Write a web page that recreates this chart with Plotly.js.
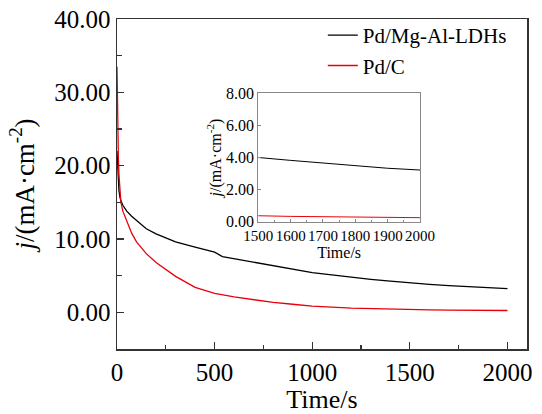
<!DOCTYPE html>
<html>
<head>
<meta charset="utf-8">
<script src="https://cdn.plot.ly/plotly-3.0.1.min.js"></script>
<style>html,body{margin:0;padding:0;background:#fff;}#chart{width:542px;height:414px;}</style>
</head>
<body>
<div id="chart"></div>
<script>
const timeBlack = [0, 3, 6, 10, 15, 20, 30, 50, 75, 100, 150, 200, 250, 300, 400, 500, 540, 560, 600, 700, 800, 900, 1000, 1100, 1200, 1300, 1400, 1500, 1600, 1700, 1800, 1850, 1900, 2000];
const currentBlack = [22, 19.5, 17.8, 16.6, 15.7, 15.2, 14.6, 13.8, 13.1, 12.5, 11.4, 10.7, 10.1, 9.6, 8.9, 8.2, 7.6, 7.5, 7.3, 6.8, 6.3, 5.8, 5.4, 5.1, 4.75, 4.5, 4.25, 4.0, 3.82, 3.65, 3.48, 3.38, 3.33, 3.22];
const timeRed = [0, 1, 2, 4, 7, 10, 15, 20, 30, 50, 75, 100, 150, 200, 250, 300, 400, 500, 600, 700, 800, 900, 1000, 1200, 1400, 1500, 1600, 1700, 1800, 1900, 2000];
const currentRed = [33.5, 30, 27, 24, 21, 18.8, 16.3, 15.0, 13.8, 12.5, 10.8, 9.6, 8.0, 6.8, 5.8, 4.9, 3.4, 2.6, 2.1, 1.7, 1.35, 1.1, 0.85, 0.58, 0.42, 0.37, 0.33, 0.3, 0.28, 0.26, 0.25];
const seriesNames = ['Pd/Mg-Al-LDHs', 'Pd/C'];
const yTitle = '<i>j</i>/(mA·cm<sup>-2</sup>)';
const xTitle = 'Time/s';

const FONT = 'Liberation Serif';
const traces = [
  {x: timeBlack, y: currentBlack, type: 'scatter', mode: 'lines', name: seriesNames[0],
   line: {color: '#000000', width: 1.3}},
  {x: timeRed, y: currentRed, type: 'scatter', mode: 'lines', name: seriesNames[1],
   line: {color: '#e8000b', width: 1.3}},
  {x: timeBlack, y: currentBlack, type: 'scatter', mode: 'lines', showlegend: false,
   xaxis: 'x2', yaxis: 'y2', line: {color: '#000000', width: 1}},
  {x: timeRed, y: currentRed, type: 'scatter', mode: 'lines', showlegend: false,
   xaxis: 'x2', yaxis: 'y2', line: {color: '#e8000b', width: 1}}
];

const layout = {
  width: 542, height: 414,
  margin: {l: 117, r: 15, t: 19, b: 65},
  paper_bgcolor: '#fff', plot_bgcolor: '#fff',
  font: {family: FONT, color: '#000'},
  showlegend: true,
  legend: {x: 0.502, y: 1.012, xanchor: 'left', yanchor: 'top', bgcolor: 'rgba(0,0,0,0)',
           font: {size: 21, family: FONT}, tracegroupgap: 0, itemwidth: 30},
  xaxis: {range: [0, 2100], dtick: 500, tick0: 0, ticks: 'inside', ticklen: 7, tickwidth: 1.2, tickangle: 0,
          tickcolor: '#333', showline: true, linecolor: '#333', linewidth: 1.5, mirror: true,
          showgrid: false, zeroline: false, tickfont: {size: 25, family: FONT},
          minor: {dtick: 250, ticks: 'inside', ticklen: 4, tickcolor: '#333', showgrid: false},
          title: {text: xTitle, font: {size: 26, family: FONT}, standoff: 2}},
  yaxis: {range: [-5, 40], dtick: 10, tick0: 0, tickformat: '.2f', ticks: 'inside', ticklen: 7, tickwidth: 1.2,
          tickcolor: '#333', showline: true, linecolor: '#333', linewidth: 1.5, mirror: true,
          showgrid: false, zeroline: false, tickfont: {size: 25, family: FONT},
          minor: {dtick: 5, ticks: 'inside', ticklen: 5, tickcolor: '#333', showgrid: false},
          title: {text: yTitle, font: {size: 27, family: FONT}, standoff: 12}},
  xaxis2: {domain: [0.3446, 0.739], anchor: 'y2', range: [1500, 2000], dtick: 100, tick0: 1500, tickangle: 0,
           ticks: 'inside', ticklen: 3, tickcolor: '#888', showline: true, linecolor: '#888', linewidth: 1,
           mirror: true, showgrid: false, zeroline: false, tickfont: {size: 15, family: FONT},
           minor: {dtick: 50, ticks: 'inside', ticklen: 2, tickcolor: '#888', showgrid: false},
           title: {text: xTitle, font: {size: 16, family: FONT}, standoff: 0}},
  yaxis2: {domain: [0.3858, 0.7748], anchor: 'x2', range: [0, 8], dtick: 2, tick0: 0, tickformat: '.2f',
           ticks: 'inside', ticklen: 3, tickcolor: '#888', showline: true, linecolor: '#888', linewidth: 1,
           mirror: true, showgrid: false, zeroline: false, tickfont: {size: 16, family: FONT},
           title: {text: yTitle, font: {size: 16, family: FONT}, standoff: 0}}
};

Plotly.newPlot('chart', traces, layout, {staticPlot: true, displayModeBar: false});
</script>
</body>
</html>
